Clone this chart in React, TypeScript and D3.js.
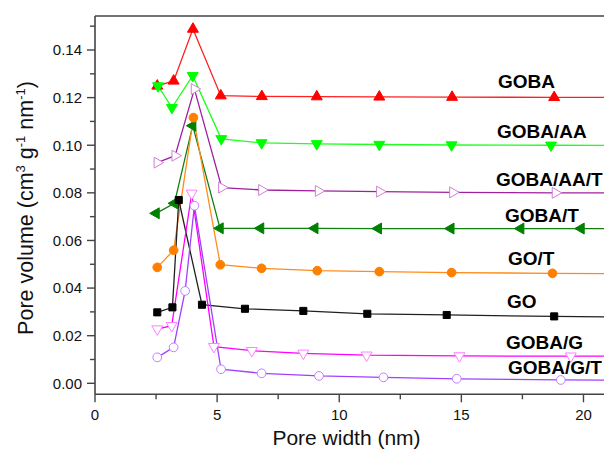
import React from "react";
import * as d3 from "d3";

// ---- Data ----
const gobaX = [2.55, 3.22, 4.01, 5.15, 6.83, 9.08, 11.64, 14.62, 18.8, 26];
const gobaY = [0.1249, 0.127, 0.1488, 0.1208, 0.1205, 0.1204, 0.1203, 0.1202, 0.1201, 0.12];

const gobaAAX = [2.58, 3.15, 4.0, 5.17, 6.82, 9.08, 11.64, 14.6, 18.67, 26];
const gobaAAY = [0.1249, 0.1158, 0.1292, 0.1027, 0.101, 0.1006, 0.1003, 0.1001, 0.1, 0.0999];

const gobaAATX = [2.55, 3.28, 4.07, 5.19, 6.83, 9.15, 11.66, 14.65, 18.85, 26];
const gobaAATY = [0.0927, 0.0956, 0.1236, 0.0822, 0.0812, 0.0808, 0.0805, 0.0802, 0.08, 0.0799];

const gobaTX = [2.5, 3.25, 4.0, 5.12, 6.78, 9.0, 11.6, 14.57, 17.43, 19.9, 26];
const gobaTY = [0.0714, 0.0756, 0.1082, 0.0651, 0.0651, 0.0651, 0.065, 0.065, 0.065, 0.065, 0.065];

const goTX = [2.55, 3.22, 4.03, 5.13, 6.82, 9.1, 11.64, 14.6, 18.73, 26];
const goTY = [0.0487, 0.0559, 0.1116, 0.0498, 0.0483, 0.0473, 0.0469, 0.0465, 0.0462, 0.0458];

const goX = [2.55, 3.17, 3.43, 4.38, 6.14, 8.53, 11.15, 14.4, 18.8, 26];
const goY = [0.0298, 0.0319, 0.077, 0.033, 0.0313, 0.0304, 0.0292, 0.0287, 0.0281, 0.0273];

const gobaGX = [2.55, 3.14, 3.96, 4.87, 6.42, 8.53, 11.12, 14.92, 19.48, 26];
const gobaGY = [0.0228, 0.0242, 0.0798, 0.0154, 0.0137, 0.0126, 0.0118, 0.0115, 0.0114, 0.0113];

const gobaGTX = [2.55, 3.22, 3.69, 4.07, 5.16, 6.82, 9.17, 11.81, 14.81, 19.07, 26];
const gobaGTY = [0.0109, 0.0151, 0.0388, 0.0746, 0.0059, 0.0042, 0.0031, 0.0025, 0.0019, 0.0014, 0.0012];

const xTicks = [0, 5, 10, 15, 20];
const xMinor = [2.5, 7.5, 12.5, 17.5];
const yTicks = [0.0, 0.02, 0.04, 0.06, 0.08, 0.1, 0.12, 0.14];
const yMinor = [0.01, 0.03, 0.05, 0.07, 0.09, 0.11, 0.13, 0.15];

type Shape = "up" | "down" | "left" | "right" | "circle" | "square";

const series = [
  { name: "GOBA", xs: gobaX, ys: gobaY, line: "#ff2020", shape: "up" as Shape, stroke: "#ff0000", fill: "#ff0000" },
  { name: "GOBA/AA", xs: gobaAAX, ys: gobaAAY, line: "#20ff20", shape: "down" as Shape, stroke: "#00ff00", fill: "#00ff00" },
  { name: "GOBA/AA/T", xs: gobaAATX, ys: gobaAATY, line: "#a020a0", shape: "right" as Shape, stroke: "#d080d0", fill: "#ffffff" },
  { name: "GOBA/T", xs: gobaTX, ys: gobaTY, line: "#108010", shape: "left" as Shape, stroke: "#008000", fill: "#008000" },
  { name: "GO/T", xs: goTX, ys: goTY, line: "#ff8c1a", shape: "circle" as Shape, stroke: "#ff8000", fill: "#ff8000" },
  { name: "GO", xs: goX, ys: goY, line: "#202020", shape: "square" as Shape, stroke: "#000000", fill: "#000000" },
  { name: "GOBA/G", xs: gobaGX, ys: gobaGY, line: "#ff00ff", shape: "down" as Shape, stroke: "#ff80ff", fill: "#ffffff" },
  { name: "GOBA/G/T", xs: gobaGTX, ys: gobaGTY, line: "#a040ff", shape: "circle" as Shape, stroke: "#c080ff", fill: "#ffffff" },
];

// label layout (pixels)
const labels = [
  { text: "GOBA", x: 498, y: 88 },
  { text: "GOBA/AA", x: 497, y: 138 },
  { text: "GOBA/AA/T", x: 496, y: 186 },
  { text: "GOBA/T", x: 505, y: 222 },
  { text: "GO/T", x: 508, y: 265 },
  { text: "GO", x: 507, y: 308 },
  { text: "GOBA/G", x: 506, y: 349 },
  { text: "GOBA/G/T", x: 508, y: 374 },
];

const W = 604;
const H = 450;
const left = 95;
const right = 604;
const top = 16;
const bottom = 394.3;

const FONT = "Arial, 'Liberation Sans', sans-serif";

function markerPath(shape: Shape): { d: string; rot: number } {
  if (shape === "circle") return { d: d3.symbol(d3.symbolCircle, 60)()!, rot: 0 };
  if (shape === "square") return { d: d3.symbol(d3.symbolSquare, 50)()!, rot: 0 };
  const d = d3.symbol(d3.symbolTriangle, 52)()!;
  const rot = shape === "up" ? 0 : shape === "down" ? 180 : shape === "left" ? -90 : 90;
  return { d, rot };
}

export default function App() {
  const x = d3.scaleLinear().domain([0, 20.84]).range([left, right]);
  const y = d3.scaleLinear().domain([0, 0.14]).range([383.3, 50]);

  return (
    <svg width={W} height={H} style={{ position: "absolute", left: 0, top: 0, background: "#fff" }}>
      <defs>
        <clipPath id="plotclip">
          <rect x={left} y={top} width={right - left + 10} height={bottom - top} />
        </clipPath>
      </defs>
      <rect x={0} y={0} width={W} height={H} fill="#ffffff" />

      <g clipPath="url(#plotclip)">
        {series.map((s) => {
          const pts = s.xs.map((v, i) => [v, s.ys[i]] as [number, number]);
          const line = d3
            .line<[number, number]>()
            .x((p) => x(p[0]))
            .y((p) => y(p[1]));
          return <path key={s.name + "l"} d={line(pts)!} fill="none" stroke={s.line} strokeWidth={1.3} />;
        })}
        {series.map((s) => {
          const m = markerPath(s.shape);
          return (
            <g key={s.name + "m"}>
              {s.xs.map((v, i) => (
                <path
                  key={i}
                  d={m.d}
                  transform={`translate(${x(v)},${y(s.ys[i])}) rotate(${m.rot})`}
                  fill={s.fill}
                  stroke={s.stroke}
                  strokeWidth={1}
                />
              ))}
            </g>
          );
        })}
      </g>

      {/* frame */}
      <line x1={left} x2={right} y1={top} y2={top} stroke="#444" strokeWidth={1.6} />
      <line x1={left} x2={left} y1={top} y2={bottom} stroke="#444" strokeWidth={1.6} />
      <line x1={left} x2={right} y1={bottom} y2={bottom} stroke="#444" strokeWidth={1.6} />

      {/* y ticks */}
      {yTicks.map((t) => (
        <g key={"yt" + t}>
          <line x1={left - 8} x2={left} y1={y(t)} y2={y(t)} stroke="#444" strokeWidth={1.4} />
          <text x={left - 13} y={y(t)} dy="0.36em" textAnchor="end" fontSize={15} fontFamily={FONT} fill="#111">
            {d3.format(".2f")(t)}
          </text>
        </g>
      ))}
      {yMinor.map((t) => (
        <line key={"ym" + t} x1={left - 5} x2={left} y1={y(t)} y2={y(t)} stroke="#444" strokeWidth={1.4} />
      ))}

      {/* x ticks */}
      {xTicks.map((t) => (
        <g key={"xt" + t}>
          <line x1={x(t)} x2={x(t)} y1={bottom} y2={bottom + 8} stroke="#444" strokeWidth={1.4} />
          <text x={x(t)} y={bottom + 25.5} textAnchor="middle" fontSize={15} fontFamily={FONT} fill="#111">
            {t}
          </text>
        </g>
      ))}
      {xMinor.map((t) => (
        <line key={"xm" + t} x1={x(t)} x2={x(t)} y1={bottom} y2={bottom + 5} stroke="#444" strokeWidth={1.4} />
      ))}

      {/* axis titles */}
      <text x={346.5} y={445} textAnchor="middle" fontSize={21} fontFamily={FONT} fill="#111">
        Pore width (nm)
      </text>
      <text
        transform={`translate(33, 208) rotate(-90)`}
        textAnchor="middle"
        fontSize={21.5}
        fontFamily={FONT}
        fill="#111"
      >
        <tspan>Pore volume (cm</tspan>
        <tspan fontSize={13} dy={-8}>3</tspan>
        <tspan dy={8}> g</tspan>
        <tspan fontSize={13} dy={-8}>-1</tspan>
        <tspan dy={8}> nm</tspan>
        <tspan fontSize={13} dy={-8}>-1</tspan>
        <tspan dy={8}>)</tspan>
      </text>

      {/* series labels */}
      {labels.map((l) => (
        <text key={l.text} x={l.x} y={l.y} fontSize={19} fontWeight="bold" fontFamily={FONT} fill="#000">
          {l.text}
        </text>
      ))}
    </svg>
  );
}
